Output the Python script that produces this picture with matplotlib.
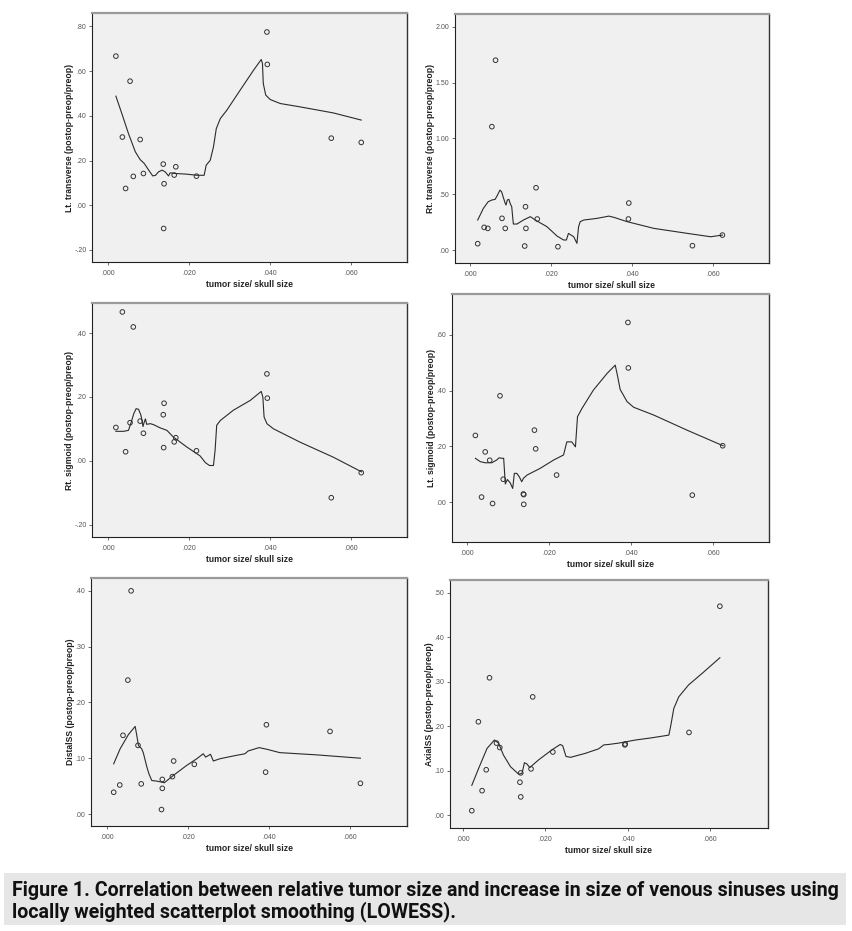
import matplotlib
matplotlib.use("Agg")
import matplotlib.pyplot as plt
from matplotlib.patches import Rectangle

W, H = 852, 931

x_label = "tumor size/ skull size"
x_ticks = [0.0, 0.02, 0.04, 0.06]
x_ticklabels = [".000", ".020", ".040", ".060"]

# ---------- Panel 1: Lt. transverse ----------
p1_ylabel = "Lt. transverse (postop-preop/preop)"
p1_x = [0.0019, 0.0035, 0.0043, 0.0054, 0.0062, 0.0079, 0.0087, 0.0136, 0.0138, 0.0137,
        0.0163, 0.0167, 0.0218, 0.0392, 0.0393, 0.0551, 0.0625]
p1_y = [0.667, 0.305, 0.075, 0.555, 0.129, 0.294, 0.142, 0.184, 0.096, -0.104,
        0.135, 0.172, 0.130, 0.775, 0.630, 0.300, 0.281]
p1_lx = [0.0019, 0.0035, 0.0050, 0.0067, 0.0079, 0.0089, 0.0100, 0.0110, 0.0117, 0.0124,
         0.0133, 0.0141, 0.0149, 0.0153, 0.0165, 0.0194, 0.0219, 0.0237, 0.0242, 0.0252,
         0.0260, 0.0267, 0.0277, 0.0293, 0.0326, 0.0359, 0.0378, 0.0381, 0.0383, 0.0389,
         0.0400, 0.0425, 0.0474, 0.0556, 0.0625]
p1_ly = [0.488, 0.403, 0.321, 0.239, 0.204, 0.187, 0.157, 0.131, 0.134, 0.149,
         0.157, 0.149, 0.131, 0.145, 0.142, 0.139, 0.134, 0.134, 0.179, 0.201,
         0.261, 0.343, 0.388, 0.425, 0.515, 0.604, 0.652, 0.634, 0.545, 0.493,
         0.473, 0.455, 0.440, 0.413, 0.381]
p1_yticks = [-0.2, 0.0, 0.2, 0.4, 0.6, 0.8]
p1_yticklabels = ["-.20", ".00", ".20", ".40", ".60", ".80"]

# ---------- Panel 2: Rt. transverse ----------
p2_ylabel = "Rt. transverse (postop-preop/preop)"
p2_x = [0.0019, 0.0035, 0.0044, 0.0054, 0.0063, 0.0079, 0.0087, 0.0137, 0.0138, 0.0135,
        0.0163, 0.0166, 0.0217, 0.0392, 0.0391, 0.0549, 0.0623]
p2_y = [0.057, 0.203, 0.194, 1.105, 1.700, 0.284, 0.194, 0.388, 0.194, 0.036,
        0.558, 0.278, 0.030, 0.421, 0.278, 0.039, 0.134]
p2_lx = [0.0019, 0.0033, 0.0045, 0.0054, 0.0062, 0.0068, 0.0074, 0.0078, 0.0083, 0.0087,
         0.0089, 0.0092, 0.0096, 0.0099, 0.0103, 0.0107, 0.0116, 0.0132, 0.0149, 0.0161,
         0.0190, 0.0215, 0.0231, 0.0238, 0.0243, 0.0256, 0.0264, 0.0268, 0.0272, 0.0281,
         0.0314, 0.0343, 0.0355, 0.0388, 0.0454, 0.0537, 0.0594, 0.0623]
p2_ly = [0.269, 0.373, 0.433, 0.448, 0.454, 0.493, 0.537, 0.522, 0.463, 0.418,
         0.403, 0.448, 0.454, 0.418, 0.388, 0.233, 0.233, 0.269, 0.299, 0.269,
         0.209, 0.125, 0.090, 0.090, 0.149, 0.119, 0.060, 0.209, 0.254, 0.269,
         0.284, 0.304, 0.293, 0.254, 0.194, 0.149, 0.119, 0.134]
p2_yticks = [0.0, 0.5, 1.0, 1.5, 2.0]
p2_yticklabels = [".00", ".50", "1.00", "1.50", "2.00"]

# ---------- Panel 3: Rt. sigmoid ----------
p3_ylabel = "Rt. sigmoid (postop-preop/preop)"
p3_x = [0.0019, 0.0035, 0.0043, 0.0054, 0.0062, 0.0079, 0.0087, 0.0136, 0.0138, 0.0137,
        0.0163, 0.0167, 0.0218, 0.0392, 0.0393, 0.0551, 0.0625]
p3_y = [0.104, 0.466, 0.028, 0.119, 0.419, 0.124, 0.086, 0.144, 0.180, 0.041,
        0.059, 0.072, 0.031, 0.272, 0.196, -0.116, -0.0375]
p3_lx = [0.0019, 0.0038, 0.0050, 0.0057, 0.0063, 0.0069, 0.0075, 0.0081, 0.0086, 0.0089,
         0.0092, 0.0095, 0.0104, 0.0112, 0.0128, 0.0145, 0.0161, 0.0194, 0.0227, 0.0240,
         0.0250, 0.0260, 0.0264, 0.0268, 0.0277, 0.0309, 0.0351, 0.0378, 0.0382, 0.0385,
         0.0392, 0.0408, 0.0474, 0.0556, 0.0626]
p3_ly = [0.092, 0.092, 0.095, 0.121, 0.147, 0.163, 0.161, 0.142, 0.107, 0.121,
         0.131, 0.114, 0.116, 0.113, 0.103, 0.095, 0.074, 0.043, 0.015, -0.006,
         -0.015, -0.015, 0.032, 0.111, 0.126, 0.158, 0.189, 0.217, 0.199, 0.137,
         0.116, 0.100, 0.058, 0.011, -0.035]
p3_yticks = [-0.2, 0.0, 0.2, 0.4]
p3_yticklabels = ["-.20", ".00", ".20", ".40"]

# ---------- Panel 4: Lt. sigmoid ----------
p4_ylabel = "Lt. sigmoid (postop-preop/preop)"
p4_x = [0.0021, 0.0036, 0.0045, 0.0056, 0.0063, 0.0081, 0.0089, 0.0138, 0.0139, 0.0139,
        0.0165, 0.0168, 0.0219, 0.0393, 0.0394, 0.0550, 0.0624]
p4_y = [0.239, 0.018, 0.180, 0.150, -0.005, 0.381, 0.082, 0.029, 0.027, -0.008,
        0.258, 0.191, 0.097, 0.644, 0.481, 0.025, 0.202]
p4_lx = [0.0021, 0.0033, 0.0045, 0.0061, 0.0073, 0.0079, 0.0085, 0.0090, 0.0094, 0.0099,
         0.0106, 0.0112, 0.0116, 0.0122, 0.0128, 0.0134, 0.0138, 0.0147, 0.0179, 0.0212,
         0.0236, 0.0244, 0.0256, 0.0265, 0.0270, 0.0281, 0.0309, 0.0342, 0.0362, 0.0368,
         0.0374, 0.0391, 0.0407, 0.0456, 0.0537, 0.0625]
p4_ly = [0.157, 0.145, 0.141, 0.141, 0.151, 0.159, 0.157, 0.157, 0.065, 0.081,
         0.069, 0.049, 0.103, 0.103, 0.091, 0.073, 0.085, 0.097, 0.121, 0.151,
         0.169, 0.216, 0.216, 0.198, 0.306, 0.336, 0.402, 0.461, 0.491, 0.450,
         0.404, 0.360, 0.340, 0.312, 0.258, 0.202]
p4_yticks = [0.0, 0.2, 0.4, 0.6]
p4_yticklabels = [".00", ".20", ".40", ".60"]

# ---------- Panel 5: DistalSS ----------
p5_ylabel = "DistalSS (postop-preop/preop)"
p5_x = [0.0017, 0.0032, 0.0040, 0.0052, 0.0060, 0.0077, 0.0085, 0.0135, 0.0137, 0.0137,
        0.0162, 0.0165, 0.0216, 0.0394, 0.0392, 0.0551, 0.0626]
p5_y = [0.039, 0.052, 0.141, 0.240, 0.400, 0.123, 0.054, 0.008, 0.062, 0.046,
        0.067, 0.095, 0.089, 0.160, 0.075, 0.148, 0.055]
p5_lx = [0.0017, 0.0033, 0.0053, 0.0070, 0.0074, 0.0078, 0.0086, 0.0090, 0.0099, 0.0104,
         0.0111, 0.0123, 0.0136, 0.0142, 0.0164, 0.0197, 0.0222, 0.0238, 0.0244, 0.0256,
         0.0263, 0.0279, 0.0312, 0.0341, 0.0349, 0.0376, 0.0395, 0.0427, 0.0518, 0.0626]
p5_ly = [0.090, 0.117, 0.142, 0.157, 0.141, 0.123, 0.117, 0.110, 0.084, 0.072,
         0.060, 0.059, 0.057, 0.056, 0.069, 0.087, 0.099, 0.108, 0.102, 0.107,
         0.095, 0.099, 0.104, 0.108, 0.113, 0.119, 0.116, 0.110, 0.106, 0.100]
p5_yticks = [0.0, 0.1, 0.2, 0.3, 0.4]
p5_yticklabels = [".00", ".10", ".20", ".30", ".40"]

# ---------- Panel 6: AxialSS ----------
p6_ylabel = "AxialSS (postop-preop/preop)"
p6_x = [0.0021, 0.0037, 0.0046, 0.0056, 0.0064, 0.0081, 0.0089, 0.0138, 0.0140, 0.0140,
        0.0165, 0.0169, 0.0218, 0.0393, 0.0394, 0.0549, 0.0624]
p6_y = [0.010, 0.210, 0.055, 0.102, 0.309, 0.162, 0.152, 0.074, 0.095, 0.041,
        0.104, 0.266, 0.142, 0.158, 0.160, 0.186, 0.470]
p6_lx = [0.0021, 0.0038, 0.0058, 0.0076, 0.0086, 0.0098, 0.0115, 0.0135, 0.0143, 0.0149,
         0.0155, 0.0162, 0.0183, 0.0216, 0.0236, 0.0242, 0.0250, 0.0261, 0.0297, 0.0329,
         0.0342, 0.0354, 0.0378, 0.0419, 0.0459, 0.0500, 0.0505, 0.0512, 0.0524, 0.0548,
         0.0581, 0.0624]
p6_ly = [0.067, 0.106, 0.150, 0.169, 0.162, 0.135, 0.109, 0.092, 0.094, 0.118,
         0.115, 0.107, 0.124, 0.147, 0.159, 0.156, 0.132, 0.130, 0.139, 0.149,
         0.158, 0.159, 0.162, 0.169, 0.174, 0.180, 0.203, 0.240, 0.266, 0.293,
         0.319, 0.354]
p6_yticks = [0.0, 0.1, 0.2, 0.3, 0.4, 0.5]
p6_yticklabels = [".00", ".10", ".20", ".30", ".40", ".50"]

caption_lines = ["Figure 1. Correlation between relative tumor size and increase in size of venous sinuses using",
                 "locally weighted scatterplot smoothing (LOWESS)."]

panels = [
    # (ylabel, x, y, lx, ly, yticks, yticklabels, box px (l, r, t, b), xlim, ylim)
    (p1_ylabel, p1_x, p1_y, p1_lx, p1_ly, p1_yticks, p1_yticklabels, (92, 407, 13, 262), (-0.0040, 0.0738), (-0.254, 0.860)),
    (p2_ylabel, p2_x, p2_y, p2_lx, p2_ly, p2_yticks, p2_yticklabels, (455, 769, 14, 263), (-0.0037, 0.0738), (-0.116, 2.114)),
    (p3_ylabel, p3_x, p3_y, p3_lx, p3_ly, p3_yticks, p3_yticklabels, (92, 407, 303, 537), (-0.0040, 0.0738), (-0.239, 0.494)),
    (p4_ylabel, p4_x, p4_y, p4_lx, p4_ly, p4_yticks, p4_yticklabels, (452, 769, 294, 542), (-0.0036, 0.0737), (-0.143, 0.746)),
    (p5_ylabel, p5_x, p5_y, p5_lx, p5_ly, p5_yticks, p5_yticklabels, (91, 407, 578, 826), (-0.0039, 0.0741), (-0.0215, 0.423)),
    (p6_ylabel, p6_x, p6_y, p6_lx, p6_ly, p6_yticks, p6_yticklabels, (450, 768, 580, 828), (-0.0032, 0.0741), (-0.029, 0.529)),
]

AX_FONT = ["Liberation Sans", "DejaVu Sans"]

fig = plt.figure(figsize=(W / 100, H / 100), dpi=100)
fig.patch.set_facecolor("white")

for (ylab, xs, ys, lx, ly, yt, ytl, box, xlim, ylim) in panels:
    l, r, t, b = box
    ax = fig.add_axes([l / W, 1 - b / H, (r - l) / W, (b - t) / H])
    ax.set_facecolor("#F0F0F0")
    ax.plot(lx, ly, color="#2b2b2b", lw=0.8, zorder=2)
    ax.scatter(xs, ys, s=11, facecolors="none", edgecolors="#333333", linewidths=0.7, zorder=3)
    ax.set_xlim(*xlim)
    ax.set_ylim(*ylim)
    ax.set_xticks(x_ticks)
    ax.set_xticklabels(x_ticklabels, family=AX_FONT)
    ax.set_yticks(yt)
    ax.set_yticklabels(ytl, family=AX_FONT)
    ax.tick_params(axis="both", direction="out", length=2.5, width=0.6, labelsize=5,
                   colors="#555555", pad=1.5, top=False, right=False)
    ax.tick_params(axis="x", pad=3)
    for side in ["left", "bottom"]:
        ax.spines[side].set_color("#222222")
        ax.spines[side].set_linewidth(0.8)
    ax.spines["top"].set_color("#9a9a9a")
    ax.spines["top"].set_linewidth(1.6)
    ax.spines["right"].set_color("#333333")
    ax.spines["right"].set_linewidth(1.0)
    ax.set_xlabel(x_label, fontsize=6.2, fontweight="bold", color="#222222",
                  labelpad=2.5, family=AX_FONT)
    ax.set_ylabel(ylab, fontsize=6.2, fontweight="bold", color="#222222",
                  labelpad=0.5, family=AX_FONT)

# caption box
fig.patches.append(Rectangle((4 / W, 1 - 925 / H), (846 - 4) / W, (925 - 873) / H,
                             transform=fig.transFigure, facecolor="#E6E6E6", edgecolor="none"))
cap_font = ["Roboto", "DejaVu Sans"]
t1 = fig.text(12 / W, 1 - 890 / H, caption_lines[0], fontsize=12, fontweight="bold",
              family=cap_font, va="center", ha="left", color="#111111")
t2 = fig.text(12 / W, 1 - 912 / H, caption_lines[1], fontsize=12, fontweight="bold",
              family=cap_font, va="center", ha="left", color="#111111")
# fit caption width to the box
renderer = fig.canvas.get_renderer()
w1 = t1.get_window_extent(renderer).width
target = 826.0
fs = 12 * target / w1
t1.set_fontsize(fs)
t2.set_fontsize(fs)

fig.savefig("out.png", dpi=100)
